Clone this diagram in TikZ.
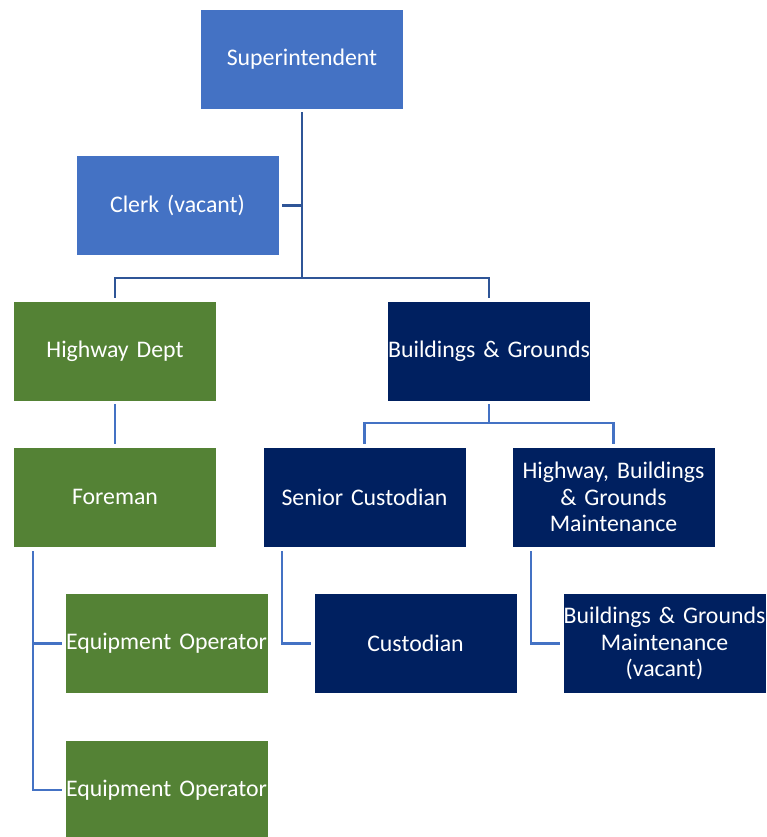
\documentclass[tikz,border=0pt]{standalone}
\usepackage{fontspec}
\setmainfont{Carlito}
\definecolor{supblue}{HTML}{4472C4}
\definecolor{hwygreen}{HTML}{548235}
\definecolor{bgnavy}{HTML}{002060}
\definecolor{toplinkblue}{HTML}{2F5597}
\definecolor{linkblue}{HTML}{4472C4}
\begin{document}
\begin{tikzpicture}[x=1pt,y=-1pt,
  orgbox/.style={draw=white, line width=0.5pt, text=white, minimum width=203pt, minimum height=100pt,
    inner sep=0pt, text width=203pt, align=center, font=\fontsize{23.8}{26.7}\selectfont},
  bluebox/.style={orgbox, fill=supblue},
  greenbox/.style={orgbox, fill=hwygreen},
  navybox/.style={orgbox, fill=bgnavy},
  toplink/.style={draw=toplinkblue, line width=2.3pt},
  link/.style={draw=linkblue, line width=2.3pt}]
\useasboundingbox (0,0) rectangle (767,837);
\node[bluebox] (sup) at (302, 59) {Superintendent};
\node[bluebox] (clerk) at (177.5, 205.5) {Clerk (vacant)};
\node[greenbox] (hwy) at (115, 351) {Highway Dept};
\node[navybox] (bg) at (489, 351) {Buildings \& Grounds};
\node[greenbox] (fore) at (115, 497) {Foreman};
\node[navybox] (sencust) at (364.5, 497) {Senior Custodian};
\node[navybox] (hbgm) at (613.5, 497) {Highway, Buildings\\\& Grounds\\Maintenance};
\node[greenbox] (equip1) at (166.5, 643.5) {Equipment Operator};
\node[greenbox] (equip2) at (166.5, 790) {Equipment Operator};
\node[navybox] (cust) at (415.5, 643.5) {Custodian};
\node[navybox] (bgmaint) at (664.5, 643.5) {Buildings \& Grounds\\Maintenance\\(vacant)};
\coordinate (hub) at (302, 278);
\coordinate (bgsplit) at (489, 423);
\coordinate (foretap) at (33, 551);
\coordinate (custtap) at (282, 551);
\coordinate (hbgtap) at (531, 551);
\draw[toplink, shorten <=3pt] (sup) -- (sup |- hub);
\draw[toplink, shorten <=3pt] (clerk) -- (clerk -| hub);
\draw[toplink, shorten <=3pt, shorten >=3pt] (hwy) |- (hub) -| (bg);
\draw[link, shorten <=3pt, shorten >=3pt] (hwy) -- (fore);
\draw[link, shorten <=3pt] (bg) -- (bgsplit);
\draw[link, shorten <=3pt, shorten >=3pt] (sencust) |- (bgsplit) -| (hbgm);
\draw[link, shorten >=3pt] (foretap) |- (equip1);
\draw[link, shorten >=3pt] (foretap) |- (equip2);
\draw[link, shorten >=3pt] (custtap) |- (cust);
\draw[link, shorten >=3pt] (hbgtap) |- (bgmaint);
\end{tikzpicture}
\end{document}
